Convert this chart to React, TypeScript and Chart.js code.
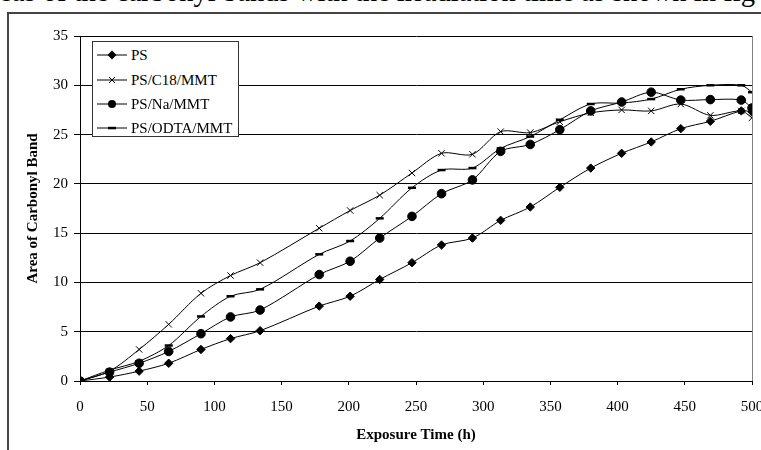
import React, { useEffect, useRef } from "react";
import { Chart, registerables } from "chart.js";

Chart.register(...registerables);

const hours = [0, 22, 44, 66, 90, 112, 134, 178, 201, 223, 247, 269, 292, 313, 335, 357, 380, 403, 425, 447, 469, 492, 500];
const psValues = [0, 0.4, 1.0, 1.8, 3.2, 4.3, 5.1, 7.6, 8.6, 10.3, 12.0, 13.8, 14.5, 16.3, 17.65, 19.65, 21.6, 23.1, 24.25, 25.6, 26.35, 27.4, 27.3];
const c18Values = [0, 1.0, 3.2, 5.75, 8.9, 10.7, 12.0, 15.5, 17.3, 18.85, 21.1, 23.1, 23.0, 25.3, 25.2, 26.3, 27.2, 27.5, 27.4, 28.1, 26.95, 27.4, 26.7];
const naValues = [0, 0.9, 1.8, 3.0, 4.8, 6.5, 7.2, 10.8, 12.15, 14.5, 16.7, 19.0, 20.4, 23.3, 24.0, 25.5, 27.4, 28.3, 29.3, 28.5, 28.55, 28.5, 27.7];
const odtaValues = [0, 1.1, 2.0, 3.6, 6.55, 8.6, 9.3, 12.85, 14.2, 16.5, 19.6, 21.4, 21.6, 23.6, 24.8, 26.5, 28.1, 28.2, 28.6, 29.6, 30.0, 30.0, 29.3];

const seriesNames = ["PS", "PS/C18/MMT", "PS/Na/MMT", "PS/ODTA/MMT"];
const xTitle = "Exposure Time (h)";
const yTitle = "Area of Carbonyl Band";
const topText = "eas of the carbonyl bands with the irradiation time as shown in fig";

const SERIF = "'Liberation Serif', 'Times New Roman', Times, serif";

const toPoints = (vals: number[]) => hours.map((h, i) => ({ x: h, y: vals[i] }));

function Marker({ kind }: { kind: string }) {
  return (
    <svg width={32} height={12} style={{ display: "block" }}>
      <line x1={0} y1={6} x2={30} y2={6} stroke="#000" strokeWidth={1} />
      {kind === "diamond" && <polygon points="15,1.5 19.5,6 15,10.5 10.5,6" fill="#000" />}
      {kind === "cross" && (
        <g stroke="#000" strokeWidth={1}>
          <line x1={12} y1={3} x2={18} y2={9} />
          <line x1={12} y1={9} x2={18} y2={3} />
        </g>
      )}
      {kind === "circle" && <circle cx={15} cy={6} r={4} fill="#000" />}
      {kind === "dash" && <rect x={11} y={4.8} width={8} height={2.5} fill="#000" />}
    </svg>
  );
}

export default function App() {
  const canvasRef = useRef<HTMLCanvasElement | null>(null);

  useEffect(() => {
    const canvas = canvasRef.current;
    if (!canvas) return;
    const common = {
      borderColor: "#000",
      backgroundColor: "#000",
      borderWidth: 1,
      tension: 0.3,
      pointBackgroundColor: "#000",
      pointBorderColor: "#000",
      fill: false,
    };
    const chart = new Chart(canvas, {
      type: "line",
      data: {
        datasets: [
          { ...common, label: seriesNames[0], data: toPoints(psValues), pointStyle: "rectRot", pointRadius: 4.2, pointBorderWidth: 1 },
          { ...common, label: seriesNames[1], data: toPoints(c18Values), pointStyle: "crossRot", pointRadius: 4.5, pointBorderWidth: 1 },
          { ...common, label: seriesNames[2], data: toPoints(naValues), pointStyle: "circle", pointRadius: 4.3, pointBorderWidth: 1 },
          { ...common, label: seriesNames[3], data: toPoints(odtaValues), pointStyle: "line", pointRadius: 4, pointBorderWidth: 2.5 },
        ],
      },
      options: {
        responsive: false,
        animation: false,
        devicePixelRatio: 1,
        layout: { padding: { left: 0, right: 9, top: 36, bottom: 0 } },
        plugins: { legend: { display: false }, tooltip: { enabled: false } },
        scales: {
          x: {
            type: "linear",
            min: 0,
            max: 500,
            afterFit: (s: any) => {
              s.height = 69;
              s.paddingLeft = 0;
              s.paddingRight = 0;
            },
            ticks: { stepSize: 50, color: "#000", font: { family: SERIF, size: 15 }, padding: 13, maxRotation: 0 },
            grid: {
              color: (ctx: any) => (ctx.tick && ctx.tick.value === 500 ? "#808080" : "rgba(0,0,0,0)"),
              tickColor: "#000",
              tickLength: 4,
              lineWidth: 1,
            },
            border: { display: true, color: "#000", width: 1 },
            title: { display: true, text: xTitle, color: "#000", font: { family: SERIF, size: 15, weight: "bold" }, padding: { top: 0, bottom: 6 } },
          },
          y: {
            min: 0,
            max: 35,
            afterFit: (s: any) => {
              s.width = 80;
              s.paddingTop = 0;
              s.paddingBottom = 0;
            },
            ticks: { stepSize: 5, color: "#000", font: { family: SERIF, size: 15 }, padding: 6 },
            grid: { color: "#000", tickColor: "#000", tickLength: 6, lineWidth: 1 },
            border: { display: true, color: "#000", width: 1 },
            title: { display: true, text: yTitle, color: "#000", font: { family: SERIF, size: 15, weight: "bold" }, padding: { top: 24, bottom: 0 } },
          },
        },
      },
    });
    return () => chart.destroy();
  }, []);

  const kinds = ["diamond", "cross", "circle", "dash"];
  const rowCenters = [13.3, 38.3, 61.7, 85.7];

  return (
    <div style={{ position: "fixed", left: 0, top: 0, width: 761, height: 450, overflow: "hidden", background: "#fff", fontFamily: SERIF }}>
      <div style={{ position: "absolute", left: -1, top: -22, fontSize: 28.6, lineHeight: "28px", whiteSpace: "nowrap", color: "#000" }}>{topText}</div>
      <div style={{ position: "absolute", left: 7, top: 12, width: 780, height: 460, border: "2px solid #444", boxSizing: "border-box" }} />
      <canvas ref={canvasRef} width={761} height={450} style={{ position: "absolute", left: 0, top: 0 }} />
      <div style={{ position: "absolute", left: 92, top: 41, width: 147, height: 96, border: "1px solid #333", boxSizing: "border-box", background: "#fff" }}>
        {seriesNames.map((n, i) => (
          <div key={n} style={{ position: "absolute", left: 4, top: rowCenters[i] - 10, height: 20, display: "flex", alignItems: "center" }}>
            <Marker kind={kinds[i]} />
            <span style={{ marginLeft: 2, fontSize: 15, lineHeight: "20px", whiteSpace: "nowrap", color: "#000" }}>{n}</span>
          </div>
        ))}
      </div>
    </div>
  );
}
